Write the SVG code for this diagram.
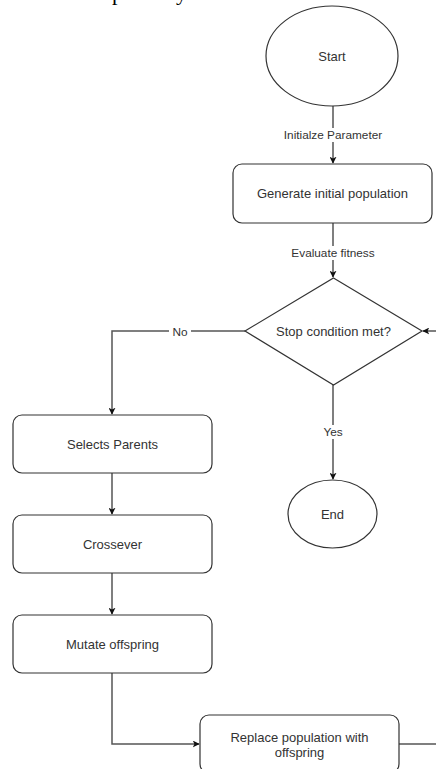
<svg xmlns="http://www.w3.org/2000/svg" width="436" height="769" viewBox="0 0 436 769">
<style>
.shape{fill:#fff;stroke:#333;stroke-width:1.2}
.edge{fill:none;stroke:#555;stroke-width:1.5}
.t{font-family:"Liberation Sans",Arial,sans-serif;font-size:13px;fill:#333;text-anchor:middle;dominant-baseline:central}
.lbl{font-family:"Liberation Sans",Arial,sans-serif;font-size:11.8px;fill:#333;text-anchor:middle;dominant-baseline:central}
.bg{fill:#fff}
</style>
<defs>
<marker id="arr" viewBox="0 0 10 10" refX="9" refY="5" markerWidth="7" markerHeight="7" markerUnits="userSpaceOnUse" orient="auto">
<path d="M0,0 L10,5 L0,10 L2.5,5 z" fill="#111"/>
</marker>
</defs>
<rect width="436" height="769" fill="#fff"/>
<text x="112" y="0" font-family="Liberation Serif,serif" font-size="22" fill="#000">p</text>
<text x="176" y="0" font-family="Liberation Serif,serif" font-size="22" fill="#000">y</text>
<g id="connectors">
<path class="edge" d="M333,106 V163" marker-end="url(#arr)"/>
<path class="edge" d="M333,223 V277" marker-end="url(#arr)"/>
<path class="edge" d="M245,331 H112 V414" marker-end="url(#arr)"/>
<path class="edge" d="M333,385 V479" marker-end="url(#arr)"/>
<path class="edge" d="M436,331 H423" marker-end="url(#arr)"/>
<path class="edge" d="M112,473 V514" marker-end="url(#arr)"/>
<path class="edge" d="M112,573 V614" marker-end="url(#arr)"/>
<path class="edge" d="M112,673 V744 H199" marker-end="url(#arr)"/>
<path class="edge" d="M399,744 H436"/>
<rect class="bg" x="281" y="128" width="104" height="14"/>
<text class="lbl" x="333" y="135">Initialze Parameter</text>
<rect class="bg" x="286" y="246" width="94" height="14"/>
<text class="lbl" x="333" y="253">Evaluate fitness</text>
<rect class="bg" x="169" y="325" width="22" height="14"/>
<text class="lbl" x="180" y="332">No</text>
<rect class="bg" x="320" y="425" width="26" height="14"/>
<text class="lbl" x="333" y="432">Yes</text>
</g>
<g id="start">
<ellipse class="shape" cx="332" cy="56" rx="66" ry="50"/>
<text class="t" x="332" y="56">Start</text>
</g>
<g id="generate">
<rect class="shape" x="233" y="164" width="199" height="59" rx="9"/>
<text class="t" x="332.5" y="193.5">Generate initial population</text>
</g>
<g id="stop">
<path class="shape" d="M333.5,278 L422,331 L333.5,385 L245,331 Z"/>
<text class="t" x="333.5" y="331">Stop condition met?</text>
</g>
<g id="end">
<ellipse class="shape" cx="332.5" cy="514" rx="44.5" ry="34"/>
<text class="t" x="332.5" y="514">End</text>
</g>
<g id="select">
<rect class="shape" x="13" y="415" width="199" height="58" rx="9"/>
<text class="t" x="112.5" y="444">Selects Parents</text>
</g>
<g id="crossover">
<rect class="shape" x="13" y="515" width="199" height="58" rx="9"/>
<text class="t" x="112.5" y="544">Crossever</text>
</g>
<g id="mutate">
<rect class="shape" x="13" y="615" width="199" height="58" rx="9"/>
<text class="t" x="112.5" y="644">Mutate offspring</text>
</g>
<g id="replace">
<rect class="shape" x="200" y="715" width="199" height="58" rx="9"/>
<text class="t" x="299.5" y="737.5">Replace population with</text>
<text class="t" x="299.5" y="752.5">offspring</text>
</g>
</svg>
